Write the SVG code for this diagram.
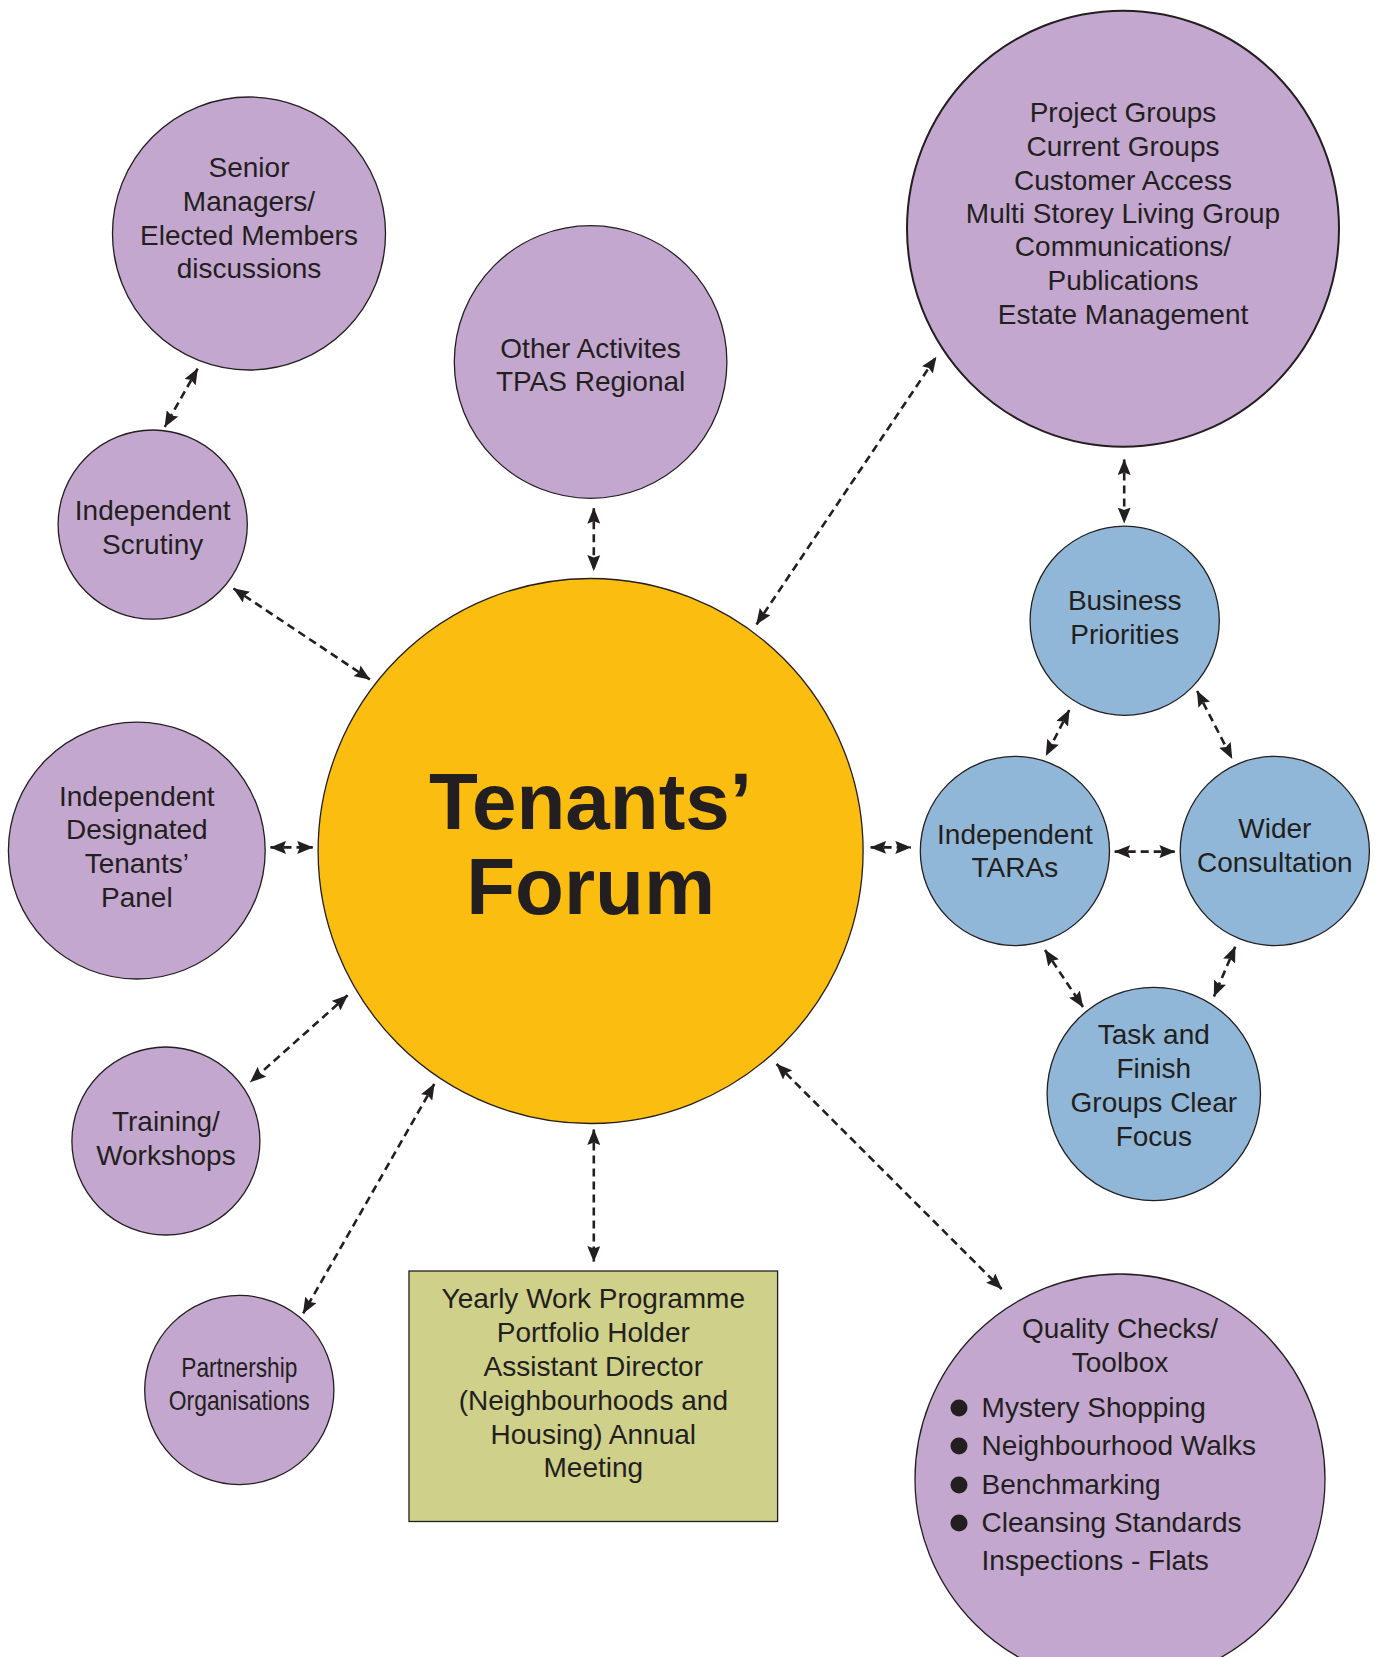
<svg xmlns="http://www.w3.org/2000/svg" width="1383" height="1657" viewBox="0 0 1383 1657">
<defs>
<style>
.p{fill:#c4a7cf;stroke:#231f20;stroke-width:1.3}
.b{fill:#90b7d7;stroke:#231f20;stroke-width:1.3}
.t{font-family:"Liberation Sans",Arial,sans-serif;font-size:28px;fill:#231f20;text-anchor:middle}
.tl{font-family:"Liberation Sans",Arial,sans-serif;font-size:28px;fill:#231f20}
.big{font-family:"Liberation Sans",Arial,sans-serif;font-size:80px;font-weight:bold;fill:#231f20;text-anchor:middle}
.c{fill:none;stroke:#231f20;stroke-width:2.6;stroke-dasharray:8 5}
</style>
<marker id="ah" viewBox="0 0 16 13" refX="15.5" refY="6.5" markerWidth="16" markerHeight="13" markerUnits="userSpaceOnUse" orient="auto-start-reverse">
<path d="M0,0 L16,6.5 L0,13 L2.5,6.5 z" fill="#231f20"/>
</marker>
</defs>
<rect width="1383" height="1657" fill="#ffffff"/>

<g id="connectors">
<line class="c" x1="197.6" y1="368.7" x2="164.8" y2="426.9" marker-start="url(#ah)" marker-end="url(#ah)"/>
<line class="c" x1="233.5" y1="588.5" x2="369.8" y2="679.4" marker-start="url(#ah)" marker-end="url(#ah)"/>
<line class="c" x1="593.8" y1="508.2" x2="593.8" y2="570.6" marker-start="url(#ah)" marker-end="url(#ah)"/>
<line class="c" x1="756.5" y1="624.4" x2="936.1" y2="357.1" marker-start="url(#ah)" marker-end="url(#ah)"/>
<line class="c" x1="1124.2" y1="459.6" x2="1124.2" y2="523" marker-start="url(#ah)" marker-end="url(#ah)"/>
<line class="c" x1="270.5" y1="847.4" x2="312.7" y2="847.4" marker-start="url(#ah)" marker-end="url(#ah)"/>
<line class="c" x1="870.6" y1="847.4" x2="910.8" y2="847.4" marker-start="url(#ah)" marker-end="url(#ah)"/>
<line class="c" x1="1069.3" y1="710" x2="1046" y2="755.5" marker-start="url(#ah)" marker-end="url(#ah)"/>
<line class="c" x1="1197.1" y1="691" x2="1232" y2="758.6" marker-start="url(#ah)" marker-end="url(#ah)"/>
<line class="c" x1="1114.7" y1="851.6" x2="1174.9" y2="851.6" marker-start="url(#ah)" marker-end="url(#ah)"/>
<line class="c" x1="1045" y1="950" x2="1083" y2="1007" marker-start="url(#ah)" marker-end="url(#ah)"/>
<line class="c" x1="1235.2" y1="946.7" x2="1214" y2="996.4" marker-start="url(#ah)" marker-end="url(#ah)"/>
<line class="c" x1="347.6" y1="995.3" x2="250.4" y2="1082" marker-start="url(#ah)" marker-end="url(#ah)"/>
<line class="c" x1="434.3" y1="1084" x2="303.2" y2="1313.3" marker-start="url(#ah)" marker-end="url(#ah)"/>
<line class="c" x1="593.8" y1="1129.5" x2="593.8" y2="1261.6" marker-start="url(#ah)" marker-end="url(#ah)"/>
<line class="c" x1="776.6" y1="1064" x2="1001.7" y2="1289" marker-start="url(#ah)" marker-end="url(#ah)"/>
</g>

<g id="senior-managers">
<circle class="p" cx="249" cy="233.5" r="136.5"/>
<text class="t" x="249" y="177">Senior</text>
<text class="t" x="249" y="211">Managers/</text>
<text class="t" x="249" y="245">Elected Members</text>
<text class="t" x="249" y="278">discussions</text>
</g>

<g id="other-activities">
<circle class="p" cx="590.6" cy="362" r="136.3"/>
<text class="t" x="590.6" y="358">Other Activites</text>
<text class="t" x="590.6" y="391">TPAS Regional</text>
</g>

<g id="project-groups">
<ellipse class="p" cx="1123" cy="228.7" rx="216" ry="218" style="stroke-width:2"/>
<text class="t" x="1123" y="122">Project Groups</text>
<text class="t" x="1123" y="156">Current Groups</text>
<text class="t" x="1123" y="190">Customer Access</text>
<text class="t" x="1123" y="223">Multi Storey Living Group</text>
<text class="t" x="1123" y="256">Communications/</text>
<text class="t" x="1123" y="290">Publications</text>
<text class="t" x="1123" y="324">Estate Management</text>
</g>

<g id="independent-scrutiny">
<circle class="p" cx="152.7" cy="524.6" r="94.6"/>
<text class="t" x="152.7" y="520">Independent</text>
<text class="t" x="152.7" y="554">Scrutiny</text>
</g>

<g id="tenants-forum">
<circle cx="590.6" cy="851" r="272.5" fill="#fbbd10" stroke="#231f20" stroke-width="1.3"/>
<text class="big" x="590.6" y="829">Tenants’</text>
<text class="big" x="590.6" y="914">Forum</text>
</g>

<g id="designated-panel">
<circle class="p" cx="136.8" cy="850.6" r="128.4"/>
<text class="t" x="136.8" y="806">Independent</text>
<text class="t" x="136.8" y="839">Designated</text>
<text class="t" x="136.8" y="873">Tenants’</text>
<text class="t" x="136.8" y="907">Panel</text>
</g>

<g id="training">
<circle class="p" cx="165.9" cy="1141" r="94"/>
<text class="t" x="165.9" y="1131">Training/</text>
<text class="t" x="165.9" y="1165">Workshops</text>
</g>

<g id="partnership">
<circle class="p" cx="239.3" cy="1390" r="94.6"/>
<text class="t" x="239.3" y="1377" textLength="116" lengthAdjust="spacingAndGlyphs">Partnership</text>
<text class="t" x="239.3" y="1410" textLength="141" lengthAdjust="spacingAndGlyphs">Organisations</text>
</g>

<g id="yearly-work">
<rect x="409" y="1271" width="368.6" height="250.5" fill="#cfd08a" stroke="#231f20" stroke-width="1.3"/>
<text class="t" x="593.3" y="1308">Yearly Work Programme</text>
<text class="t" x="593.3" y="1342">Portfolio Holder</text>
<text class="t" x="593.3" y="1376">Assistant Director</text>
<text class="t" x="593.3" y="1410">(Neighbourhoods and</text>
<text class="t" x="593.3" y="1444">Housing) Annual</text>
<text class="t" x="593.3" y="1477">Meeting</text>
</g>

<g id="quality-checks">
<circle class="p" cx="1120" cy="1479" r="205"/>
<text class="t" x="1120" y="1338">Quality Checks/</text>
<text class="t" x="1120" y="1372">Toolbox</text>
<circle cx="959" cy="1408" r="8.5" fill="#231f20"/>
<circle cx="959" cy="1446" r="8.5" fill="#231f20"/>
<circle cx="959" cy="1485" r="8.5" fill="#231f20"/>
<circle cx="959" cy="1523" r="8.5" fill="#231f20"/>
<text class="tl" x="981.6" y="1417">Mystery Shopping</text>
<text class="tl" x="981.6" y="1455">Neighbourhood Walks</text>
<text class="tl" x="981.6" y="1494">Benchmarking</text>
<text class="tl" x="981.6" y="1532">Cleansing Standards</text>
<text class="tl" x="981.6" y="1570">Inspections - Flats</text>
</g>

<g id="business-priorities">
<circle class="b" cx="1124.7" cy="620.7" r="94.6"/>
<text class="t" x="1124.7" y="610">Business</text>
<text class="t" x="1124.7" y="644">Priorities</text>
</g>

<g id="independent-taras">
<circle class="b" cx="1014.9" cy="851" r="94.6"/>
<text class="t" x="1014.9" y="844">Independent</text>
<text class="t" x="1014.9" y="877">TARAs</text>
</g>

<g id="wider-consultation">
<circle class="b" cx="1274.8" cy="851" r="94.6"/>
<text class="t" x="1274.8" y="838">Wider</text>
<text class="t" x="1274.8" y="872">Consultation</text>
</g>

<g id="task-finish">
<circle class="b" cx="1153.8" cy="1094" r="106.7"/>
<text class="t" x="1153.8" y="1044">Task and</text>
<text class="t" x="1153.8" y="1078">Finish</text>
<text class="t" x="1153.8" y="1112">Groups Clear</text>
<text class="t" x="1153.8" y="1146">Focus</text>
</g>
</svg>
